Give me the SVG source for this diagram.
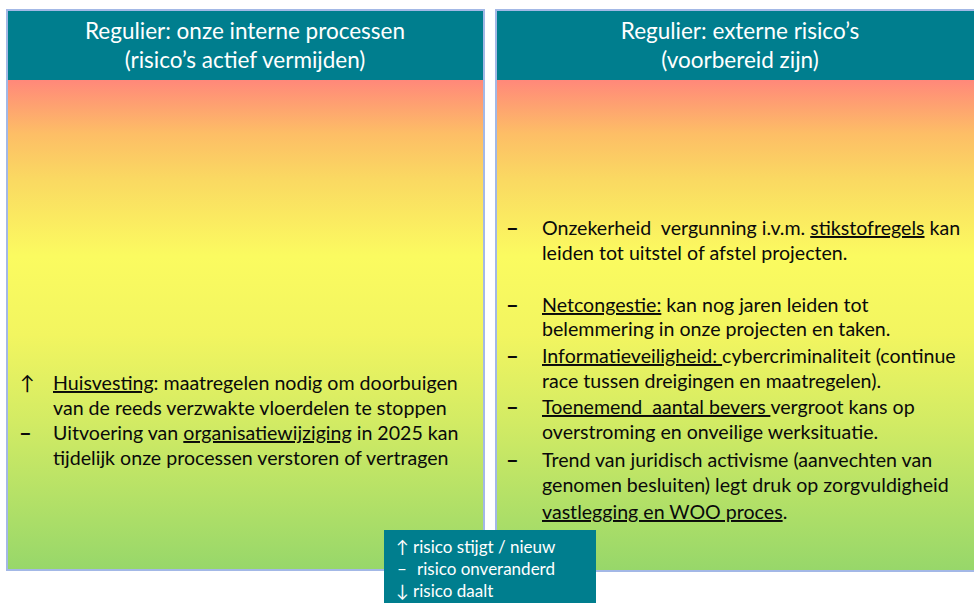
<svg xmlns="http://www.w3.org/2000/svg" width="974" height="603" viewBox="0 0 974 603">
<defs>
<linearGradient id="risk" gradientUnits="userSpaceOnUse" x1="0" y1="80" x2="0" y2="570">
<stop offset="0" stop-color="#FF887A"/>
<stop offset="0.11" stop-color="#FDBE66"/>
<stop offset="0.2" stop-color="#FAD862"/>
<stop offset="0.36" stop-color="#FBFB60"/>
<stop offset="0.52" stop-color="#F2F560"/>
<stop offset="0.7" stop-color="#D2EB64"/>
<stop offset="1" stop-color="#97D76A"/>
</linearGradient>
<style>
.panel{fill:url(#risk);stroke:#A3B8E6;stroke-width:2}
.head{fill:#007E8E}
.ht{font-family:Lato,"Open Sans","Liberation Sans",sans-serif;font-size:22.5px;fill:#FFFFFF;text-anchor:middle}
.bt{font-family:Lato,"Open Sans","Liberation Sans",sans-serif;font-size:19.6px;fill:#0A0A0A}
.d{font-family:Lato,"Open Sans","Liberation Sans",sans-serif;font-size:22px;font-weight:bold;fill:#0A0A0A}
.lt{font-family:Lato,"Open Sans","Liberation Sans",sans-serif;font-size:17px;fill:#FFFFFF}
.u{text-decoration:underline}
</style>
</defs>
<rect width="974" height="603" fill="#FFFFFF"/>
<g id="panel-intern">
<rect class="panel" x="7" y="10" width="477" height="560"/>
<rect class="head" x="8" y="11" width="475" height="69"/>
<text class="ht" x="245" y="39">Regulier: onze interne processen</text>
<text class="ht" x="245" y="68">(risico’s actief vermijden)</text>
<text class="bt" x="20" y="390">↑</text>
<text class="bt" x="53" y="390"><tspan class="u">Huisvesting</tspan>: maatregelen nodig om doorbuigen</text>
<text class="bt" x="53" y="415">van de reeds verzwakte vloerdelen te stoppen</text>
<text class="d" x="19" y="441">–</text>
<text class="bt" x="53" y="440">Uitvoering van <tspan class="u">organisatiewijziging</tspan> in 2025 kan</text>
<text class="bt" x="53" y="465">tijdelijk onze processen verstoren of vertragen</text>
</g>
<g id="panel-extern">
<rect class="panel" x="496" y="10" width="482" height="561"/>
<rect class="head" x="497" y="11" width="477" height="69"/>
<text class="ht" x="740" y="39">Regulier: externe risico’s</text>
<text class="ht" x="740" y="68">(voorbereid zijn)</text>
<text class="d" x="506" y="236">–</text>
<text class="bt" x="542" y="235" xml:space="preserve">Onzekerheid  vergunning i.v.m. <tspan class="u">stikstofregels</tspan> kan</text>
<text class="bt" x="542" y="260">leiden tot uitstel of afstel projecten.</text>
<text class="d" x="506" y="313">–</text>
<text class="bt" x="542" y="312"><tspan class="u">Netcongestie:</tspan> kan nog jaren leiden tot</text>
<text class="bt" x="542" y="336">belemmering in onze projecten en taken.</text>
<text class="d" x="506" y="364">–</text>
<text class="bt" x="542" y="363" xml:space="preserve"><tspan class="u">Informatieveiligheid: </tspan>cybercriminaliteit (continue</text>
<text class="bt" x="542" y="388">race tussen dreigingen en maatregelen).</text>
<text class="d" x="506" y="415">–</text>
<text class="bt" x="542" y="414" xml:space="preserve"><tspan class="u">Toenemend  aantal bevers </tspan>vergroot kans op</text>
<text class="bt" x="542" y="439">overstroming en onveilige werksituatie.</text>
<text class="d" x="506" y="468">–</text>
<text class="bt" x="542" y="467">Trend van juridisch activisme (aanvechten van</text>
<text class="bt" x="542" y="492">genomen besluiten) legt druk op zorgvuldigheid</text>
<text class="bt" x="542" y="519"><tspan class="u">vastlegging en WOO proces</tspan>.</text>
</g>
<g id="legend">
<rect x="384" y="530" width="212" height="73" fill="#007E8E"/>
<text class="lt" x="396" y="553">↑ risico stijgt / nieuw</text>
<text class="lt" x="397" y="575">–</text>
<text class="lt" x="417" y="575">risico onveranderd</text>
<text class="lt" x="396" y="597">↓ risico daalt</text>
</g>
</svg>
